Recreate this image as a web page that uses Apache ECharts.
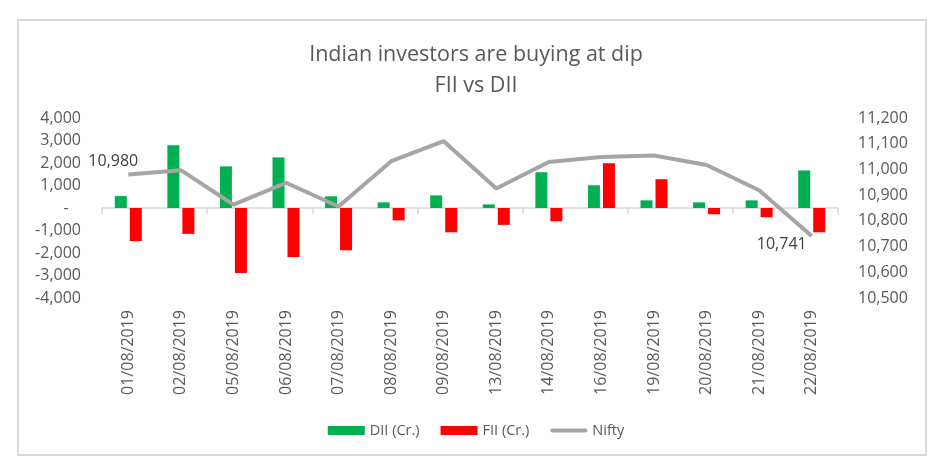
<!DOCTYPE html>
<html>
<head>
<meta charset="utf-8">
<script src="https://cdn.jsdelivr.net/npm/echarts@6/dist/echarts.min.js"></script>
<style>
html,body{margin:0;padding:0;background:#fff;}
#frame{position:absolute;left:17px;top:19px;width:906px;height:433px;border:2px solid #d9d9d9;box-sizing:content-box;}
#chart{position:absolute;left:0;top:0;width:952px;height:471px;}
</style>
</head>
<body>
<div id="frame"></div>
<div id="chart"></div>
<script>
const categories = ['01/08/2019','02/08/2019','05/08/2019','06/08/2019','07/08/2019','08/08/2019','09/08/2019','13/08/2019','14/08/2019','16/08/2019','19/08/2019','20/08/2019','21/08/2019','22/08/2019'];
const diiValues = [530, 2790, 1850, 2250, 520, 250, 560, 160, 1590, 1010, 340, 250, 340, 1670];
const fiiValues = [-1470, -1150, -2890, -2180, -1880, -550, -1080, -750, -590, 1990, 1280, -280, -410, -1080];
const niftyValues = [10980, 10997, 10863, 10948, 10856, 11032, 11110, 10926, 11029, 11048, 11054, 11017, 10919, 10741];
const leftTicks = [-4000, 4000, 1000];
const rightTicks = [10500, 11200, 100];

const fmt = v => v.toLocaleString('en-US');
const chart = echarts.init(document.getElementById('chart'));
const txt = '#595959';
const font = '"Open Sans", "Noto Sans", sans-serif';

const niftyData = niftyValues.map((v, i) => {
  if (i === 0) return {value: v, label: {show: true, position: 'top', offset: [-15, 0]}};
  if (i === niftyValues.length - 1) return {value: v, label: {show: true, position: 'left', offset: [0, 8]}};
  return v;
});

chart.setOption({
  animation: false,
  textStyle: {fontFamily: font},
  title: {
    text: 'Indian investors are buying at dip\nFII vs DII',
    left: 'center',
    top: 34,
    textStyle: {fontSize: 21.5, fontWeight: 'normal', color: txt, lineHeight: 31, fontFamily: font}
  },
  legend: {
    left: 'center',
    top: 418,
    itemWidth: 37,
    itemHeight: 9,
    itemGap: 21,
    textStyle: {fontSize: 14.5, color: txt, fontFamily: font},
    data: [
      {name: 'DII (Cr.)', icon: 'rect'},
      {name: 'FII (Cr.)', icon: 'rect'},
      {name: 'Nifty', icon: 'path://M0,0L0.01,0ZM2,2.5H35A2,2 0 0 1 35,6.5H2A2,2 0 0 1 2,2.5ZM37,9L36.99,9Z'}
    ]
  },
  grid: {left: 102, right: 114, top: 118, height: 180},
  xAxis: [
    {
      type: 'category', data: categories,
      axisLine: {onZero: true, lineStyle: {color: '#d9d9d9', width: 1.5}},
      axisTick: {show: true, length: 6, lineStyle: {color: '#d9d9d9', width: 1.5}},
      axisLabel: {show: false}
    },
    {
      type: 'category', data: categories, position: 'bottom',
      axisLine: {show: false, onZero: false}, axisTick: {show: false},
      axisLabel: {rotate: 90, margin: 12, fontSize: 16, color: txt, fontFamily: font, interval: 0}
    }
  ],
  yAxis: [
    {
      type: 'value', position: 'left',
      min: leftTicks[0], max: leftTicks[1], interval: leftTicks[2],
      splitLine: {show: false}, axisLine: {show: false}, axisTick: {show: false},
      axisLabel: {margin: 21, fontSize: 16, color: txt, fontFamily: font,
        formatter: v => v === 0 ? '-   ' : fmt(v)}
    },
    {
      type: 'value', position: 'right',
      min: rightTicks[0], max: rightTicks[1], interval: rightTicks[2],
      splitLine: {show: false}, axisLine: {show: false}, axisTick: {show: false},
      axisLabel: {margin: 20, fontSize: 16, color: txt, fontFamily: font, formatter: v => fmt(v)}
    }
  ],
  series: [
    {
      name: 'DII (Cr.)', type: 'bar', xAxisIndex: 0, yAxisIndex: 0,
      data: diiValues, barWidth: 12, barGap: '25%',
      itemStyle: {color: '#00b050'}
    },
    {
      name: 'FII (Cr.)', type: 'bar', xAxisIndex: 0, yAxisIndex: 0,
      data: fiiValues, barWidth: 12, barGap: '25%',
      itemStyle: {color: '#ff0000'}
    },
    {
      name: 'Nifty', type: 'line', xAxisIndex: 0, yAxisIndex: 1,
      data: niftyData, symbol: 'circle', symbolSize: 0.01, showSymbol: true,
      lineStyle: {color: '#a5a5a5', width: 4},
      itemStyle: {color: '#a5a5a5'},
      label: {show: false, fontSize: 16, color: '#404040', fontFamily: font,
        formatter: p => fmt(p.value)},
      z: 5
    }
  ]
});
</script>
</body>
</html>
